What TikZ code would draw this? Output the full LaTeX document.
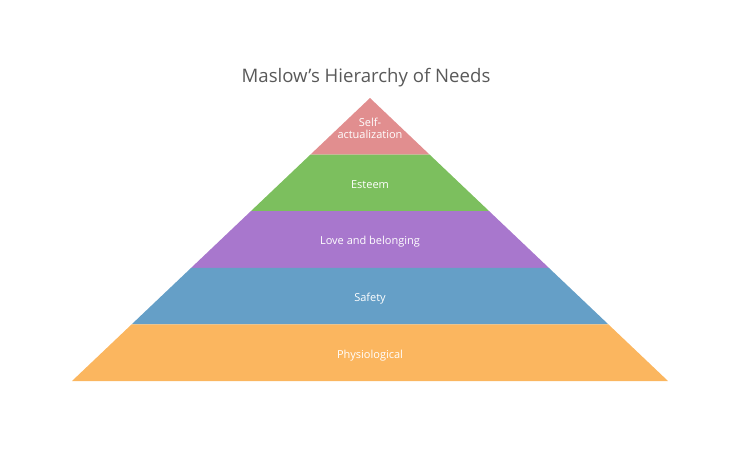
\documentclass[tikz,border=0pt]{standalone}
\usepackage{fontspec}
\setmainfont{Open Sans}
\usepackage{tikz}
\definecolor{lvpink}{HTML}{E18E8F}
\definecolor{lvgreen}{HTML}{7CBF5E}
\definecolor{lvpurple}{HTML}{A877CD}
\definecolor{lvblue}{HTML}{659FC7}
\definecolor{lvorange}{HTML}{FBB65F}
\definecolor{titlegray}{HTML}{595959}

\begin{document}
\begin{tikzpicture}[
  x=1pt, y=-1pt,
  layerlabel/.style={font=\fontsize{11}{12}\selectfont, text=white, align=center, inner sep=0pt},
]
\useasboundingbox (0,0) rectangle (740,450);
\def\xmid{370}\def\ytop{98}\def\ybase{381}\def\hbase{298}
% layer height and slope (half width per unit of height)
\pgfmathsetmacro{\dy}{(\ybase-\ytop)/5}
\pgfmathsetmacro{\slope}{\hbase/(\ybase-\ytop)}
\node[font=\fontsize{18.6}{20}\selectfont, text=titlegray] (title) at (366,78) {Maslow's Hierarchy of Needs};

% layers from the apex down
\foreach \i/\col in {0/lvpink,1/lvgreen,2/lvpurple,3/lvblue,4/lvorange} {
  \pgfmathsetmacro{\ya}{\ytop+\i*\dy}
  \pgfmathsetmacro{\yb}{\ytop+(\i+1)*\dy}
  \pgfmathsetmacro{\wa}{\slope*\i*\dy}
  \pgfmathsetmacro{\wb}{\slope*(\i+1)*\dy}
  \fill[\col] (\xmid-\wa,\ya) -- (\xmid+\wa,\ya) -- (\xmid+\wb,\yb) -- (\xmid-\wb,\yb) -- cycle;
}

\node[layerlabel] (selfact) at (\xmid,128) {Self-\\actualization};
\node[layerlabel] (esteem) at (\xmid,185) {Esteem};
\node[layerlabel] (love) at (\xmid,242) {Love and belonging};
\node[layerlabel] (safety) at (\xmid,299) {Safety};
\node[layerlabel] (physio) at (\xmid,356) {Physiological};
\end{tikzpicture}
\end{document}
